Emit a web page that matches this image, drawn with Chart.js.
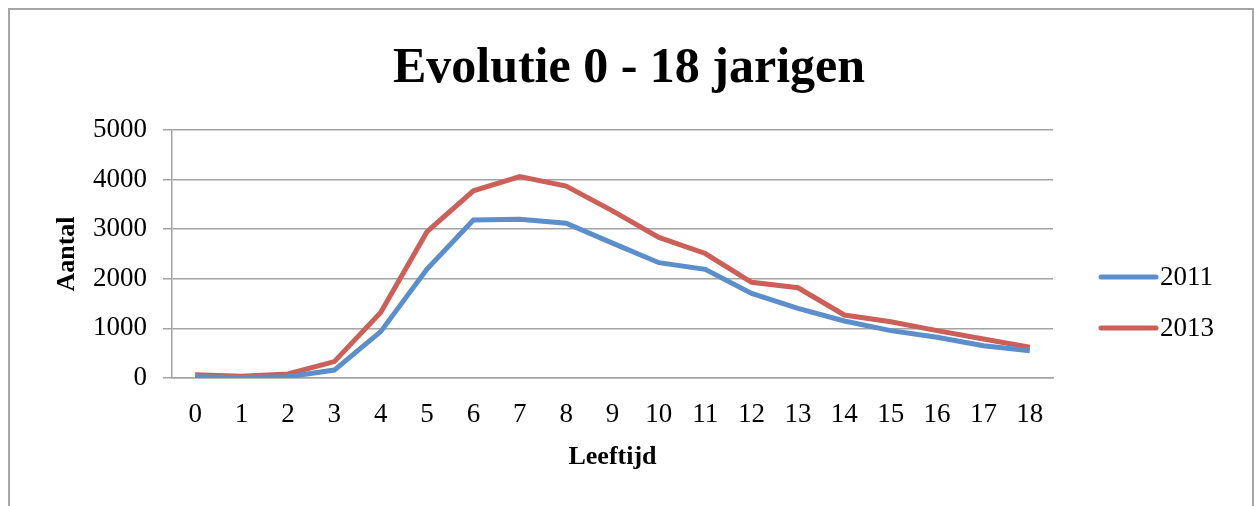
<!DOCTYPE html>
<html>
<head>
<meta charset="utf-8">
<script src="https://cdn.jsdelivr.net/npm/chart.js@4/dist/chart.umd.min.js"></script>
<style>
  html, body { margin: 0; padding: 0; background: #fff; }
  #wrap { position: relative; width: 1258px; height: 506px; overflow: hidden; }
  #frame { position: absolute; left: 8px; top: 8px; width: 1246px; height: 520px; border: 2px solid #a6a6a6; box-sizing: border-box; }
  canvas { position: absolute; left: 0; top: 0; }
</style>
</head>
<body>
<div id="wrap">
  <div id="frame"></div>
  <canvas id="chart" width="1258" height="506"></canvas>
</div>
<script>
// Chart data
const ages = ['0', '1', '2', '3', '4', '5', '6', '7', '8', '9', '10', '11', '12', '13', '14', '15', '16', '17', '18'];
const values2011 = [25, 10, 25, 160, 935, 2195, 3185, 3200, 3120, 2720, 2325, 2190, 1705, 1405, 1150, 955, 820, 650, 550];
const values2013 = [65, 35, 80, 330, 1320, 2950, 3775, 4060, 3870, 3370, 2835, 2510, 1930, 1820, 1270, 1135, 955, 785, 620];
const yTicks = [0, 1000, 2000, 3000, 4000, 5000];

const serif = "'Liberation Serif', 'Times New Roman', serif";
const gridColor = '#a3a3a3';

// simple legend drawn to the right of the plot (line sample + label)
const sideLegend = {
  id: 'sideLegend',
  afterDraw(chart) {
    const ctx = chart.ctx;
    const rows = [277, 328];
    ctx.save();
    chart.data.datasets.forEach((ds, i) => {
      const y = rows[i];
      ctx.strokeStyle = ds.borderColor;
      ctx.lineWidth = 5;
      ctx.lineCap = 'round';
      ctx.beginPath();
      ctx.moveTo(1101, y);
      ctx.lineTo(1156, y);
      ctx.stroke();
      ctx.fillStyle = '#000';
      ctx.font = '27px ' + serif;
      ctx.textAlign = 'left';
      ctx.textBaseline = 'middle';
      ctx.fillText(ds.label, 1160, y + 1);
    });
    ctx.restore();
  }
};

const ctx = document.getElementById('chart').getContext('2d');
new Chart(ctx, {
  type: 'line',
  data: {
    labels: ages,
    datasets: [
      {
        label: '2011',
        data: values2011,
        borderColor: '#5b8fcb',
        backgroundColor: '#5b8fcb',
        borderWidth: 5,
        pointRadius: 0,
        tension: 0,
        fill: false
      },
      {
        label: '2013',
        data: values2013,
        borderColor: '#cc5f57',
        backgroundColor: '#cc5f57',
        borderWidth: 5,
        pointRadius: 0,
        tension: 0,
        fill: false
      }
    ]
  },
  options: {
    responsive: false,
    animation: false,
    devicePixelRatio: 1,
    layout: { padding: 0 },
    plugins: {
      legend: { display: false },
      tooltip: { enabled: false },
      title: {
        display: true,
        text: 'Evolutie 0 - 18 jarigen',
        color: '#000',
        font: { family: serif, size: 50, weight: 'bold', lineHeight: 1.2 },
        padding: { top: 39, bottom: 31 }
      }
    },
    scales: {
      x: {
        offset: true,
        grid: { display: false, drawTicks: false },
        border: { display: true, color: gridColor, width: 1.5 },
        ticks: {
          color: '#000',
          padding: 21,
          maxRotation: 0,
          autoSkip: false,
          font: { family: serif, size: 27, lineHeight: 1.2 }
        },
        title: {
          display: true,
          text: 'Leeftijd',
          color: '#000',
          font: { family: serif, size: 26, weight: 'bold', lineHeight: 1.2 },
          padding: { top: 0, bottom: 33 }
        },
        afterFit(scale) { scale.height = 128; }
      },
      y: {
        min: 0,
        max: 5000,
        afterBuildTicks(scale) { scale.ticks = yTicks.map(v => ({ value: v })); },
        grid: { color: gridColor, lineWidth: 1.5, drawTicks: true, tickLength: 9 },
        border: { display: true, color: gridColor, width: 1.5 },
        ticks: {
          color: '#000',
          padding: 16,
          font: { family: serif, size: 27, lineHeight: 1.2 },
          callback: (v) => String(v)
        },
        title: {
          display: true,
          text: 'Aantal',
          color: '#000',
          font: { family: serif, size: 26, weight: 'bold', lineHeight: 1.2 },
          padding: { top: 52, bottom: 0 }
        },
        afterFit(scale) { scale.width = 172; }
      },
      // empty right-hand axis that only reserves room for the legend
      legendSpace: {
        type: 'linear',
        position: 'right',
        display: true,
        grid: { display: false, drawTicks: false },
        border: { display: false },
        ticks: { display: false },
        afterFit(scale) { scale.width = 205; }
      }
    }
  },
  plugins: [sideLegend]
});
</script>
</body>
</html>
